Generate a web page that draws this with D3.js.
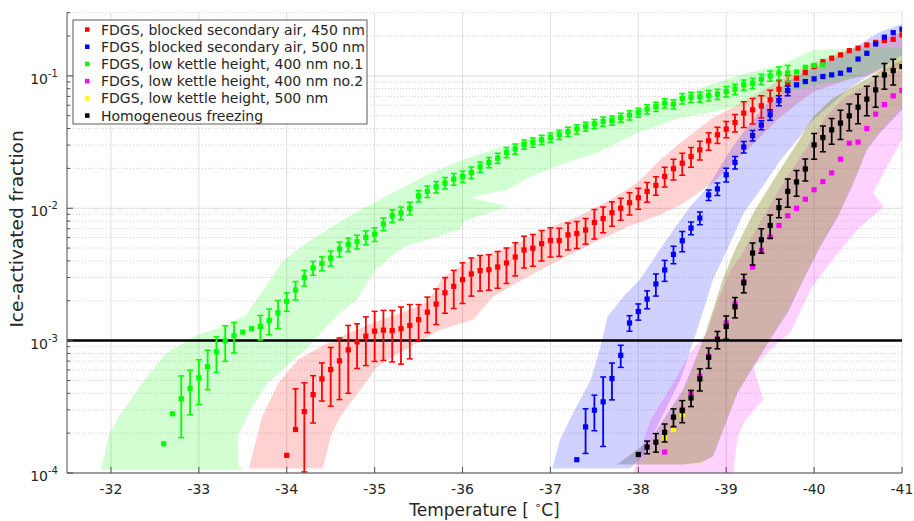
<!DOCTYPE html>
<html>
<head>
<meta charset="utf-8">
<script src="https://cdn.jsdelivr.net/npm/d3@7"></script>
<style>
  body { margin: 0; background: #fff; }
  text { font-family: "DejaVu Sans", sans-serif; fill: #262626; }
</style>
</head>
<body>
<svg width="914" height="521"></svg>
<script>
// ---- data ----
var xTicks = [-32, -33, -34, -35, -36, -37, -38, -39, -40, -41];
var yTicks = [1e-4, 1e-3, 1e-2, 1e-1];
var yTickExp = ["-4", "-3", "-2", "-1"];
var threshold = 1e-3;

var legendLabels = [
  "FDGS, blocked secondary air, 450 nm",
  "FDGS, blocked secondary air, 500 nm",
  "FDGS, low kettle height, 400 nm no.1",
  "FDGS, low kettle height, 400 nm no.2",
  "FDGS, low kettle height, 500 nm",
  "Homogeneous freezing"
];
var colors = ["#ff0000", "#0000ff", "#00ff00", "#ff00ff", "#ffff00", "#000000"];

// red: blocked secondary air, 450 nm
var redT = [-34.0,-34.1,-34.2,-34.3,-34.4,-34.5,-34.6,-34.7,-34.8,-34.9,-35.0,-35.1,-35.2,-35.3,-35.4,-35.5,-35.6,-35.7,-35.8,-35.9,
  -36.0,-36.1,-36.2,-36.3,-36.4,-36.5,-36.6,-36.7,-36.8,-36.9,-37.0,-37.1,-37.2,-37.3,-37.4,-37.5,-37.6,-37.7,-37.8,-37.9,
  -38.0,-38.1,-38.2,-38.3,-38.4,-38.5,-38.6,-38.7,-38.8,-38.9,-39.0,-39.1,-39.2,-39.3,-39.4,-39.5,-39.6,-39.7,-39.8,-39.9,
  -40.0,-40.1,-40.2,-40.3,-40.4,-40.5,-40.6,-40.7,-40.8,-40.9,-41.0];
var redV = [1.36e-4,2.13e-4,2.91e-4,3.91e-4,5.14e-4,6.04e-4,7.03e-4,8.51e-4,9.78e-4,1.08e-3,
  1.18e-3,1.20e-3,1.19e-3,1.23e-3,1.30e-3,1.44e-3,1.64e-3,1.89e-3,2.30e-3,2.57e-3,
  2.89e-3,3.19e-3,3.38e-3,3.43e-3,3.60e-3,3.86e-3,4.28e-3,4.84e-3,4.99e-3,5.40e-3,
  5.70e-3,5.70e-3,6.29e-3,6.45e-3,6.85e-3,7.81e-3,8.36e-3,9.25e-3,1.00e-2,1.10e-2,
  1.20e-2,1.34e-2,1.49e-2,1.74e-2,1.99e-2,2.19e-2,2.46e-2,2.76e-2,3.23e-2,3.59e-2,
  3.96e-2,4.44e-2,5.23e-2,5.54e-2,5.94e-2,6.59e-2,7.94e-2,8.81e-2,9.61e-2,0.106,
  0.1175,0.128,0.136,0.144,0.155,0.162,0.171,0.179,0.185,0.189,0.204];
var redErr = [0,1.03,0.65,0.39,0.32,0.47,0.49,0.53,0.37,0.40,
  0.41,0.41,0.42,0.46,0.44,0.30,0.30,0.30,0.30,0.32,
  0.34,0.32,0.30,0.30,0.31,0.30,0.28,0.27,0.27,0.26,
  0.25,0.24,0.23,0.23,0.22,0.25,0.22,0.21,0.19,0.19,
  0.18,0.17,0.16,0.17,0.18,0.19,0.17,0.16,0.15,0.14,
  0.14,0.15,0.22,0.22,0.19,0.18,0.155,0.14,0,0,
  0,0,0,0,0,0,0,0,0,0,0];

// blue: blocked secondary air, 500 nm
var blueT = [-37.3,-37.4,-37.5,-37.6,-37.7,-37.8,-37.9,-38.0,-38.1,-38.2,-38.3,-38.4,-38.5,-38.6,-38.7,-38.8,-38.9,-39.0,-39.1,-39.2,
  -39.3,-39.4,-39.5,-39.6,-39.7,-39.8,-39.9,-40.0,-40.1,-40.2,-40.3,-40.4,-40.5,-40.6,-40.7,-40.8,-40.9,-41.0];
var blueV = [1.26e-4,2.23e-4,2.98e-4,3.45e-4,5.17e-4,7.75e-4,1.36e-3,1.66e-3,2.06e-3,2.68e-3,
  3.42e-3,4.48e-3,5.68e-3,7.09e-3,8.43e-3,1.26e-2,1.40e-2,1.79e-2,2.22e-2,2.90e-2,
  3.54e-2,4.25e-2,5.08e-2,6.51e-2,7.74e-2,8.55e-2,9.06e-2,9.49e-2,9.88e-2,0.1017,
  0.1047,0.111,0.134,0.148,0.174,0.196,0.212,0.225];
var blueErr = [0,0.37,0.30,0.54,0.31,0.19,0.135,0.14,0.155,0.19,
  0.18,0.15,0.175,0.11,0.11,0.09,0.11,0.12,0.11,0.10,
  0.09,0.08,0.09,0.085,0.085,0,0,0,0,0,
  0,0,0,0,0,0,0,0];

// green: low kettle height, 400 nm no.1
var greenT = [-32.6,-32.7,-32.8,-32.9,-33.0,-33.1,-33.2,-33.3,-33.4,-33.5,-33.6,-33.7,-33.8,-33.9,-34.0,-34.1,-34.2,-34.3,-34.4,-34.5,
  -34.6,-34.7,-34.8,-34.9,-35.0,-35.1,-35.2,-35.3,-35.4,-35.5,-35.6,-35.7,-35.8,-35.9,-36.0,-36.1,-36.2,-36.3,-36.4,-36.5,
  -36.6,-36.7,-36.8,-36.9,-37.0,-37.1,-37.2,-37.3,-37.4,-37.5,-37.6,-37.7,-37.8,-37.9,-38.0,-38.1,-38.2,-38.3,-38.4,-38.5,
  -38.6,-38.7,-38.8,-38.9,-39.0,-39.1,-39.2,-39.3,-39.4,-39.5,-39.6,-39.7,-39.8,-39.9,-40.0,-40.1];
var greenV = [1.66e-4,2.80e-4,3.63e-4,4.36e-4,5.23e-4,6.36e-4,8.22e-4,9.95e-4,1.09e-3,1.16e-3,
  1.23e-3,1.28e-3,1.42e-3,1.62e-3,1.98e-3,2.41e-3,2.99e-3,3.54e-3,3.83e-3,4.20e-3,
  4.92e-3,5.33e-3,5.59e-3,6.02e-3,6.37e-3,7.60e-3,8.78e-3,9.20e-3,1.00e-2,1.24e-2,
  1.34e-2,1.45e-2,1.55e-2,1.66e-2,1.74e-2,1.86e-2,2.05e-2,2.22e-2,2.39e-2,2.64e-2,
  2.81e-2,3.03e-2,3.14e-2,3.29e-2,3.43e-2,3.59e-2,3.78e-2,3.96e-2,4.14e-2,4.34e-2,
  4.52e-2,4.60e-2,4.84e-2,5.05e-2,5.28e-2,5.61e-2,5.86e-2,6.22e-2,6.11e-2,6.74e-2,
  6.90e-2,6.94e-2,7.10e-2,7.28e-2,7.61e-2,7.94e-2,8.55e-2,8.81e-2,9.44e-2,0.100,
  0.105,0.105,0.107,0.116,0.120,0.121];
var greenErr = [0,0,0.49,0.37,0.37,0.33,0.30,0.30,0.26,0,
  0,0.21,0.22,0.24,0.16,0.16,0.135,0.12,0.12,0.13,
  0.13,0.12,0.12,0.12,0.12,0.11,0.11,0.11,0.11,0.10,
  0.10,0.10,0.10,0.10,0.10,0.10,0.09,0.09,0.09,0.09,
  0.09,0.08,0.08,0.08,0.08,0.08,0.08,0.08,0.08,0.08,
  0.08,0.08,0.08,0.08,0.08,0.08,0.08,0.08,0.08,0.09,
  0.09,0.09,0.09,0.09,0.09,0.09,0.09,0.09,0.09,0.09,
  0.11,0.14,0,0,0,0];

// magenta: low kettle height, 400 nm no.2
var magentaT = [-38.3,-38.4,-38.5,-38.6,-38.7,-38.8,-38.9,-39.0,-39.1,-39.2,-39.3,-39.4,-39.5,-39.6,-39.7,-39.8,-39.9,-40.0,-40.1,-40.2,
  -40.3,-40.4,-40.5,-40.6,-40.7,-40.8,-40.9,-41.0];
var magentaV = [1.44e-4,2.19e-4,3.02e-4,4.03e-4,5.38e-4,7.6e-4,1.03e-3,1.36e-3,1.90e-3,2.8e-3,
  3.60e-3,4.80e-3,6.06e-3,7.41e-3,8.78e-3,1.00e-2,1.17e-2,1.38e-2,1.59e-2,1.85e-2,
  2.35e-2,3.10e-2,3.16e-2,4.00e-2,5.14e-2,6.07e-2,7.06e-2,7.74e-2];

// yellow: low kettle height, 500 nm
var yellowT = [-38.3, -38.4, -38.5];
var yellowV = [1.84e-4, 2.13e-4, 2.76e-4];

// black: homogeneous freezing
var blackT = [-38.0,-38.1,-38.2,-38.3,-38.4,-38.5,-38.6,-38.7,-38.8,-38.9,-39.0,-39.1,-39.2,-39.3,-39.4,-39.5,-39.6,-39.7,-39.8,-39.9,
  -40.0,-40.1,-40.2,-40.3,-40.4,-40.5,-40.6,-40.7,-40.8,-40.9,-41.0];
var blackV = [1.38e-4,1.57e-4,1.71e-4,2.03e-4,2.64e-4,2.96e-4,3.69e-4,5.14e-4,7.48e-4,1.02e-3,
  1.28e-3,1.80e-3,2.73e-3,4.59e-3,5.78e-3,7.41e-3,1.01e-2,1.34e-2,1.58e-2,1.98e-2,
  3.01e-2,3.42e-2,3.91e-2,4.40e-2,4.99e-2,5.80e-2,6.67e-2,7.84e-2,0.1017,0.1096,0.1175];
var blackErr = [0,0.11,0.16,0.155,0.155,0.19,0.14,0.19,0.175,0.15,
  0.20,0.175,0.16,0.19,0.21,0.20,0.16,0.24,0.22,0.19,
  0.22,0.22,0.22,0.25,0.23,0.25,0.25,0.26,0.22,0.22,0];

// shaded ranges, outline as [temperature, fraction]
var greenBand = [[-31.89,1.06e-4],[-31.97,1.89e-4],[-32.09,2.67e-4],[-32.36,4.82e-4],[-32.62,7.97e-4],[-32.96,1.09e-3],
  [-33.27,1.28e-3],[-33.53,1.54e-3],[-33.76,2.56e-3],[-33.95,3.95e-3],[-34.21,5.40e-3],[-34.50,7.13e-3],[-34.84,9.74e-3],
  [-35.21,1.31e-2],[-35.60,1.79e-2],[-35.97,2.28e-2],[-36.35,2.76e-2],[-36.74,3.29e-2],[-37.11,3.85e-2],[-37.53,4.66e-2],
  [-37.91,5.35e-2],[-38.29,6.37e-2],[-38.85,8.70e-2],[-39.24,0.105],[-39.62,0.121],[-39.99,0.157],[-40.75,0.163],[-41.0,0.163],
  [-41.0,0.125],[-40.75,0.111],[-40.38,0.0933],[-39.99,0.0841],[-39.62,0.0731],[-39.24,0.0615],[-38.85,0.0535],[-38.48,0.0482],
  [-38.02,0.0378],[-37.53,0.0262],[-37.15,0.0217],[-36.77,0.0173],[-36.51,0.0138],[-36.09,0.0120],[-36.51,0.0104],[-36.01,0.00791],
  [-35.97,0.00688],[-35.33,0.00512],[-35.01,0.00343],[-34.80,0.00204],[-34.61,0.00163],[-34.42,0.00121],[-34.21,8.55e-4],
  [-33.99,6.37e-4],[-33.79,4.82e-4],[-33.61,3.18e-4],[-33.44,1.89e-4],[-33.45,1.12e-4],[-33.51,1.06e-4]];
var redBand = [[-33.57,1.08e-4],[-33.72,2.67e-4],[-33.91,4.82e-4],[-34.13,7.19e-4],[-34.41,9.17e-4],[-34.61,1.07e-3],
  [-34.99,1.37e-3],[-35.37,1.68e-3],[-35.60,1.94e-3],[-35.78,3.04e-3],[-36.17,4.30e-3],[-36.54,5.12e-3],[-36.92,6.88e-3],
  [-37.31,8.63e-3],[-37.68,1.16e-2],[-37.99,1.56e-2],[-38.25,2.32e-2],[-38.48,3.12e-2],[-38.85,4.82e-2],[-39.24,6.59e-2],
  [-39.62,9.33e-2],[-39.99,0.125],[-40.38,0.157],[-40.75,0.187],[-41.0,0.215],
  [-41.0,0.115],[-40.38,0.0933],[-39.99,0.0757],[-39.62,0.049],[-39.24,0.0276],[-38.85,0.0156],[-38.48,0.0106],[-38.25,0.00893],
  [-37.88,0.00725],[-37.49,0.00549],[-37.11,0.00408],[-36.74,0.00304],[-36.35,0.00215],[-36.12,0.00144],[-35.75,0.00121],
  [-35.29,8.12e-4],[-35.03,6.37e-4],[-34.84,4.27e-4],[-34.61,2.67e-4],[-34.50,1.89e-4],[-34.41,1.08e-4]];
var blueBand = [[-37.02,1.08e-4],[-37.11,1.79e-4],[-37.26,2.86e-4],[-37.46,5.08e-4],[-37.57,9.01e-4],[-37.65,1.52e-3],
  [-37.83,2.15e-3],[-38.02,2.89e-3],[-38.22,4.61e-3],[-38.40,6.88e-3],[-38.59,1.026e-2],[-38.79,1.45e-2],[-39.05,2.76e-2],
  [-39.24,4.12e-2],[-39.50,6.59e-2],[-39.73,9.33e-2],[-39.99,0.115],[-40.38,0.152],[-40.75,0.215],[-41.0,0.247],
  [-41.0,0.144],[-40.60,0.0983],[-40.38,0.0784],[-40.19,0.0604],[-39.99,0.0466],[-39.81,0.0329],[-39.62,0.0232],
  [-39.39,0.0138],[-39.20,0.00925],[-39.01,0.00486],[-38.85,0.00289],[-38.67,0.00121],[-38.48,5.08e-4],[-38.25,2.53e-4],
  [-38.06,1.38e-4],[-37.91,1.08e-4]];
var magentaBand = [[-37.94,1.0e-4],[-38.14,2.53e-4],[-38.40,4.82e-4],[-38.59,8.12e-4],[-38.77,1.11e-3],[-38.91,2.04e-3],
  [-39.05,3.43e-3],[-39.16,4.30e-3],[-39.45,9.25e-3],[-39.67,1.64e-2],[-39.95,3.12e-2],[-40.13,4.90e-2],[-40.32,6.59e-2],
  [-40.50,7.84e-2],[-40.75,9.83e-2],[-41.0,0.111],
  [-41.0,0.0329],[-40.89,0.0245],[-40.67,0.0131],[-40.79,0.01026],[-40.49,6.88e-3],[-40.19,3.95e-3],[-39.96,2.43e-3],
  [-39.73,1.15e-3],[-39.54,9.01e-4],[-39.31,6.37e-4],[-39.42,3.59e-4],[-39.22,2.53e-4],[-39.13,1.89e-4],[-39.08,1.0e-4]];
var yellowBand = [[-38.02,1.16e-4],[-38.31,2.13e-4],[-38.59,5.08e-4],[-38.74,1.02e-3],[-38.96,2.89e-3],[-39.10,4.86e-3],
  [-39.31,9.25e-3],[-39.54,1.64e-2],[-39.81,3.12e-2],[-39.99,4.90e-2],[-40.19,6.59e-2],[-40.38,7.84e-2],[-40.64,9.83e-2],
  [-41.0,0.132],
  [-41.0,0.0604],[-40.75,0.0391],[-40.60,0.0286],[-40.45,0.0164],[-40.27,0.00893],[-40.07,0.0053],[-39.88,0.00299],
  [-39.70,0.00171],[-39.50,0.00105],[-39.31,6.59e-4],[-39.13,4.12e-4],[-39.01,2.62e-4],[-38.85,1.38e-4],[-38.71,1.16e-4]];
var blackBand = [[-37.76,1.16e-4],[-38.14,1.79e-4],[-38.51,4.27e-4],[-38.74,1.02e-3],[-38.96,2.89e-3],[-39.10,4.86e-3],
  [-39.31,9.25e-3],[-39.54,1.64e-2],[-39.81,3.12e-2],[-39.99,4.90e-2],[-40.19,6.59e-2],[-40.38,7.84e-2],[-40.64,9.83e-2],
  [-41.0,0.132],
  [-41.0,5.54e-2],[-40.75,3.71e-2],[-40.60,2.76e-2],[-40.45,1.56e-2],[-40.27,8.63e-3],[-40.07,5.12e-3],[-39.88,2.89e-3],
  [-39.70,1.63e-3],[-39.50,1.02e-3],[-39.31,6.37e-4],[-39.13,4.05e-4],[-39.01,2.53e-4],[-38.85,1.33e-4],[-38.71,1.20e-4],
  [-38.51,1.16e-4]];

// ---- layout ----
var svg = d3.select("svg"),
    width = +svg.attr("width"),
    height = +svg.attr("height");

var plotLeft = 67, plotRight = 902, plotTop = 12.7, plotBottom = 473;

var x = d3.scaleLinear().domain([-31.5, -41]).range([plotLeft, plotRight]);
var y = d3.scaleLog().domain([1e-4, 0.3]).range([plotBottom, plotTop]);

svg.append("defs").append("clipPath").attr("id", "plotClip")
  .append("rect")
  .attr("x", plotLeft).attr("y", plotTop)
  .attr("width", plotRight - plotLeft).attr("height", plotBottom - plotTop);

// grid
var grid = svg.append("g");
grid.selectAll(".minor")
  .data(y.ticks().filter(function (d) { return yTicks.indexOf(d) < 0; }))
  .enter().append("line")
  .attr("x1", plotLeft).attr("x2", plotRight)
  .attr("y1", function (d) { return y(d); })
  .attr("y2", function (d) { return y(d); })
  .style("stroke", "#c4c4c4").style("stroke-width", 0.8)
  .style("stroke-dasharray", "1,2");
grid.selectAll(".ymaj")
  .data(yTicks)
  .enter().append("line")
  .attr("x1", plotLeft).attr("x2", plotRight)
  .attr("y1", function (d) { return y(d); })
  .attr("y2", function (d) { return y(d); })
  .style("stroke", "#dedede").style("stroke-width", 1);
grid.selectAll(".xmaj")
  .data(xTicks)
  .enter().append("line")
  .attr("x1", function (d) { return x(d); })
  .attr("x2", function (d) { return x(d); })
  .attr("y1", plotTop).attr("y2", plotBottom)
  .style("stroke", "#dedede").style("stroke-width", 1);

var plot = svg.append("g").attr("clip-path", "url(#plotClip)");

// shaded ranges
var outline = d3.line()
  .x(function (d) { return x(d[0]); })
  .y(function (d) { return y(d[1]); });
var bands = [
  {pts: redBand, color: colors[0]},
  {pts: blueBand, color: colors[1]},
  {pts: greenBand, color: colors[2]},
  {pts: magentaBand, color: colors[3]},
  {pts: yellowBand, color: colors[4]},
  {pts: blackBand, color: colors[5]}
];
plot.selectAll(".band")
  .data(bands)
  .enter().append("path")
  .attr("d", function (d) { return outline(d.pts) + "Z"; })
  .style("fill", function (d) { return d.color; })
  .style("fill-opacity", 0.18)
  .style("stroke", "none");

// 1e-3 reference line
plot.append("line")
  .attr("x1", plotLeft).attr("x2", plotRight)
  .attr("y1", y(threshold)).attr("y2", y(threshold))
  .style("stroke", "#000").style("stroke-width", 2.5);

// error bars + markers
function drawSeries(T, V, E, color) {
  var pts = T.map(function (t, i) {
    return {t: t, v: V[i], e: E ? E[i] : 0};
  });
  var g = plot.append("g");
  var withErr = pts.filter(function (d) { return d.e > 0; });
  var eb = g.selectAll(".eb").data(withErr).enter().append("g");
  eb.append("line")
    .attr("x1", function (d) { return x(d.t); })
    .attr("x2", function (d) { return x(d.t); })
    .attr("y1", function (d) { return y(d.v * (1 + d.e)); })
    .attr("y2", function (d) { return d.e < 1 ? y(d.v * (1 - d.e)) : y(d.v); })
    .style("stroke", color).style("stroke-width", 1.8);
  eb.append("line")
    .attr("x1", function (d) { return x(d.t) - 3; })
    .attr("x2", function (d) { return x(d.t) + 3; })
    .attr("y1", function (d) { return y(d.v * (1 + d.e)); })
    .attr("y2", function (d) { return y(d.v * (1 + d.e)); })
    .style("stroke", color).style("stroke-width", 1.5);
  eb.filter(function (d) { return d.e < 1; }).append("line")
    .attr("x1", function (d) { return x(d.t) - 3; })
    .attr("x2", function (d) { return x(d.t) + 3; })
    .attr("y1", function (d) { return y(d.v * (1 - d.e)); })
    .attr("y2", function (d) { return y(d.v * (1 - d.e)); })
    .style("stroke", color).style("stroke-width", 1.5);
  g.selectAll(".mk").data(pts).enter().append("rect")
    .attr("x", function (d) { return x(d.t) - 2.6; })
    .attr("y", function (d) { return y(d.v) - 2.6; })
    .attr("width", 5.2).attr("height", 5.2)
    .style("fill", color);
}
drawSeries(redT, redV, redErr, colors[0]);
drawSeries(blueT, blueV, blueErr, colors[1]);
drawSeries(greenT, greenV, greenErr, colors[2]);
drawSeries(magentaT, magentaV, null, colors[3]);
drawSeries(yellowT, yellowV, null, colors[4]);
drawSeries(blackT, blackV, blackErr, colors[5]);

// axes
var axisColor = "#4d4d4d";
svg.append("line").attr("x1", plotLeft).attr("x2", plotLeft).attr("y1", plotTop).attr("y2", plotBottom)
  .style("stroke", axisColor).style("stroke-width", 1);
svg.append("line").attr("x1", plotLeft).attr("x2", plotRight).attr("y1", plotBottom).attr("y2", plotBottom)
  .style("stroke", axisColor).style("stroke-width", 1);

svg.selectAll(".xt").data(xTicks).enter().append("line")
  .attr("x1", function (d) { return x(d); }).attr("x2", function (d) { return x(d); })
  .attr("y1", plotBottom).attr("y2", plotBottom - 6)
  .style("stroke", axisColor);
svg.selectAll(".xl").data(xTicks).enter().append("text")
  .attr("x", function (d) { return x(d); })
  .attr("y", plotBottom + 21)
  .attr("text-anchor", "middle")
  .style("font-size", "14px")
  .text(function (d) { return String(d); });

svg.selectAll(".ytm").data(y.ticks()).enter().append("line")
  .attr("x1", plotLeft).attr("x2", function (d) { return plotLeft + (yTicks.indexOf(d) >= 0 ? 6 : 3); })
  .attr("y1", function (d) { return y(d); }).attr("y2", function (d) { return y(d); })
  .style("stroke", axisColor);
var yl = svg.selectAll(".yl").data(yTicks).enter().append("text")
  .attr("x", plotLeft - 9)
  .attr("y", function (d) { return y(d) + 8; })
  .attr("text-anchor", "end")
  .style("font-size", "14px");
yl.append("tspan").text("10");
yl.append("tspan")
  .attr("dy", -7)
  .style("font-size", "10px")
  .text(function (d, i) { return yTickExp[i]; });

// axis titles
svg.append("text")
  .attr("transform", "translate(23,229) rotate(-90)")
  .attr("text-anchor", "middle")
  .style("font-size", "18.5px")
  .text("Ice-activated fraction");
var xt = svg.append("text")
  .attr("x", (plotLeft + plotRight) / 2)
  .attr("y", 516)
  .attr("text-anchor", "middle")
  .style("font-size", "17px");
xt.append("tspan").text("Temperature [ ");
xt.append("tspan").attr("dy", -7).style("font-size", "11px").text("\u2218");
xt.append("tspan").attr("dy", 7).text("C]");

// legend
var lg = svg.append("g").attr("transform", "translate(73,20)");
lg.append("rect")
  .attr("width", 294).attr("height", 104)
  .style("fill", "#fff").style("stroke", "#333").style("stroke-width", 0.8);
var row = lg.selectAll(".row").data(legendLabels).enter().append("g")
  .attr("transform", function (d, i) { return "translate(0," + (9.5 + i * 17.2) + ")"; });
row.append("rect")
  .attr("x", 12).attr("y", -2.2).attr("width", 4.5).attr("height", 4.5)
  .style("fill", function (d, i) { return colors[i]; });
row.append("text")
  .attr("x", 28).attr("y", 5)
  .style("font-size", "14px")
  .text(function (d) { return d; });
</script>
</body>
</html>
